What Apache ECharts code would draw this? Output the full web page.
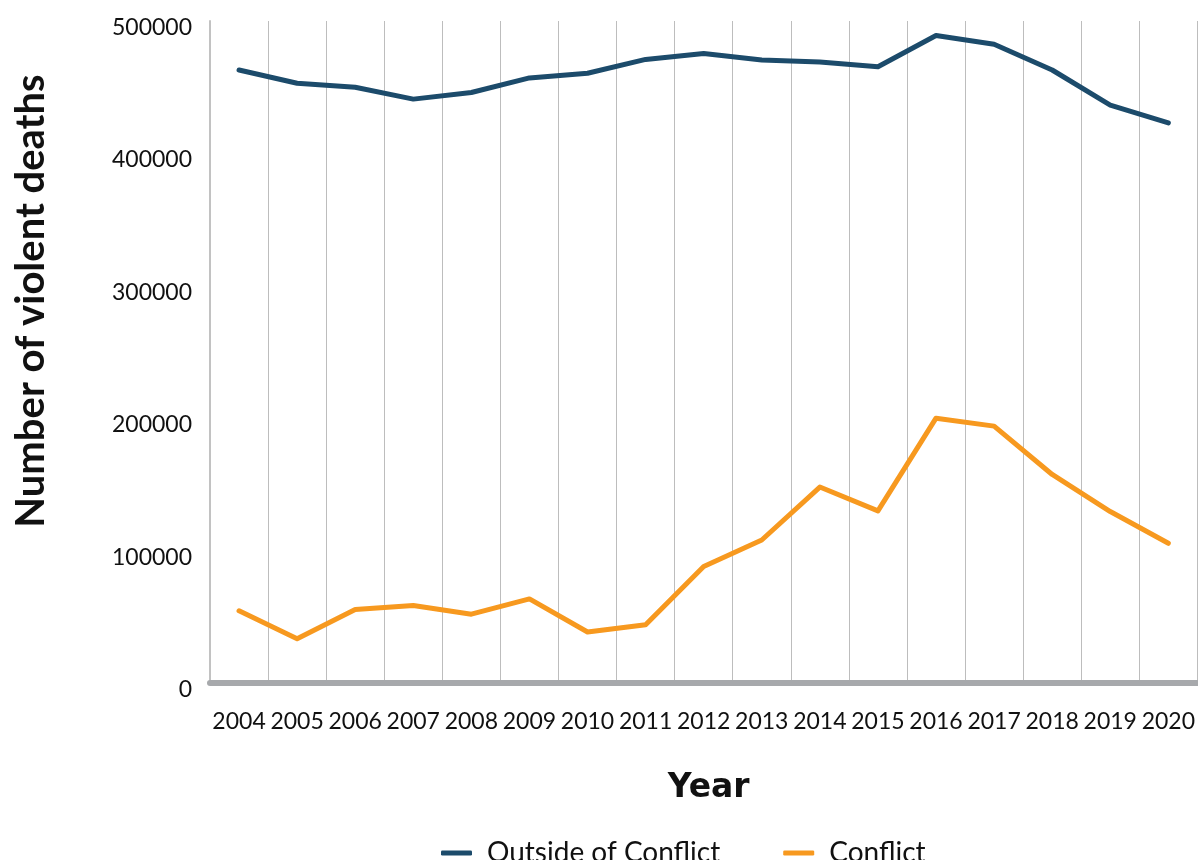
<!DOCTYPE html>
<html>
<head>
<meta charset="utf-8">
<style>
  html, body { margin: 0; padding: 0; background: #ffffff; }
  #chart { width: 1198px; height: 860px; }
</style>
<script src="https://cdn.jsdelivr.net/npm/echarts@6/dist/echarts.min.js"></script>
</head>
<body>
<div id="chart"></div>
<script>
// Violent deaths per year, split by conflict setting
const years = ['2004','2005','2006','2007','2008','2009','2010','2011','2012',
               '2013','2014','2015','2016','2017','2018','2019','2020'];
const outsideConflict = [463000, 453000, 450000, 441000, 446000, 457000, 460500, 471000, 475500,
                         470500, 469000, 465500, 489000, 482500, 463000, 436500, 423000];
const conflict = [54500, 33500, 55500, 58500, 52000, 63500, 38500, 44000, 88000,
                  108000, 148000, 130000, 200000, 194000, 157500, 129500, 105500];
const yTicks = [0, 100000, 200000, 300000, 400000, 500000];

const FONT = 'Lato, "Open Sans", sans-serif';
const TITLE_FONT = '"DejaVu Sans", Lato, sans-serif';
const BLUE = '#1c4b6b';
const ORANGE = '#f7991f';

const chart = echarts.init(document.getElementById('chart'), null, { renderer: 'canvas' });

chart.setOption({
  animation: false,
  backgroundColor: '#ffffff',
  grid: { left: 210, right: 0, top: 21, bottom: 177, containLabel: false },
  xAxis: {
    type: 'category',
    data: years,
    boundaryGap: true,
    name: 'Year',
    nameLocation: 'middle',
    nameGap: 89,
    nameTextStyle: {
      fontFamily: TITLE_FONT, fontWeight: 'bold', fontSize: 33, color: '#111',
      padding: [0, 0, 0, 10]
    },
    axisLine: { show: true, lineStyle: { color: '#a7a9ac', width: 6 } },
    axisTick: { show: false },
    axisLabel: { fontFamily: FONT, fontSize: 23, color: '#111', margin: 27, interval: 0 },
    splitLine: { show: true, interval: 0, lineStyle: { color: '#bdbdbd', width: 1 } }
  },
  yAxis: {
    type: 'value',
    min: 0,
    max: 500000,
    interval: 100000,
    axisLine: { show: true, lineStyle: { color: '#c2c2c2', width: 2 } },
    axisTick: { show: false },
    splitLine: { show: false },
    axisLabel: {
      fontFamily: FONT, fontSize: 23, color: '#111', margin: 18,
      verticalAlign: 'top',
      lineHeight: 13,
      formatter: v => (yTicks.indexOf(v) >= 0 ? String(v) : '')
    }
  },
  legend: {
    left: 441,
    top: 839,
    padding: 0,
    itemWidth: 31,
    itemHeight: 5,
    itemGap: 63,
    icon: 'roundRect',
    textStyle: { fontFamily: FONT, fontSize: 28, color: '#111', padding: [0, 0, 0, 10] },
    data: ['Outside of Conflict', 'Conflict']
  },
  graphic: [{
    type: 'text',
    x: 31,
    y: 301,
    rotation: Math.PI / 2,
    style: {
      text: 'Number of violent deaths',
      fontFamily: FONT,
      fontWeight: 'bold',
      fontSize: 40,
      fill: '#111',
      align: 'center',
      verticalAlign: 'middle'
    }
  }],
  series: [
    {
      name: 'Outside of Conflict',
      type: 'line',
      data: outsideConflict,
      showSymbol: false,
      symbol: 'none',
      color: BLUE,
      lineStyle: { color: BLUE, width: 5, cap: 'round', join: 'round' }
    },
    {
      name: 'Conflict',
      type: 'line',
      data: conflict,
      showSymbol: false,
      symbol: 'none',
      color: ORANGE,
      lineStyle: { color: ORANGE, width: 5, cap: 'round', join: 'round' }
    }
  ]
});
</script>
</body>
</html>
